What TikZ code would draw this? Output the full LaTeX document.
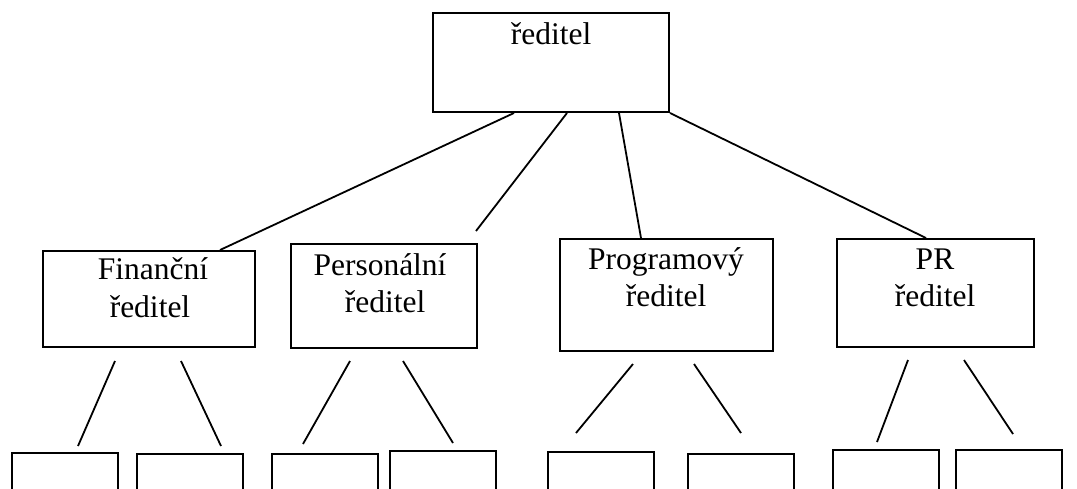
\documentclass[tikz,border=0pt]{standalone}
\usepackage{fontspec}
\setmainfont{Liberation Serif}
\begin{document}
\begin{tikzpicture}[x=1pt,y=-1pt,
  box/.style={draw,line width=2pt,rectangle,inner sep=0pt},
  leaf/.style={draw,line width=1.6pt,rectangle,inner sep=0pt,minimum width=106pt,minimum height=80pt,anchor=north west},
  lbl/.style={inner sep=0pt,anchor=base,font=\fontsize{31.5}{37}\selectfont},
  link/.style={line width=1.8pt}]
\useasboundingbox (0,0) rectangle (1077,488);
\clip (0,0) rectangle (1077,488);

% management boxes
\node[box,minimum width=236pt,minimum height=99pt] (boss) at (551,62.5) {};
\node[box,minimum width=212pt,minimum height=96pt] (fin) at (149,299) {};
\node[box,minimum width=186pt,minimum height=104pt] (pers) at (384,296) {};
\node[box,minimum width=213pt,minimum height=112pt] (prog) at (666.5,295) {};
\node[box,minimum width=197pt,minimum height=108pt] (pr) at (935.5,293) {};

% labels
\node[lbl] (bossA) at (551,44) {ředitel};
\node[lbl] (finA) at (153,279) {Finanční};
\node[lbl] (finB) at (150,317) {ředitel};
\node[lbl] (persA) at (380,275) {Personální};
\node[lbl] (persB) at (385,312) {ředitel};
\node[lbl] (progA) at (666,269) {Programový};
\node[lbl] (progB) at (666,306) {ředitel};
\node[lbl] (prA) at (935,269) {PR};
\node[lbl] (prB) at (935,306) {ředitel};

% lower-level boxes
\node[leaf] (f1) at (11,452) {};
\node[leaf] (f2) at (136,453) {};
\node[leaf] (p1) at (271,453) {};
\node[leaf] (p2) at (389,450) {};
\node[leaf] (g1) at (547,451) {};
\node[leaf] (g2) at (687,453) {};
\node[leaf] (r1) at (832,449) {};
\node[leaf] (r2) at (955,449) {};

% free ends of the connectors
\coordinate (persEnd) at (476,231);
\coordinate (fa1) at (115,361); \coordinate (fa2) at (78,446);
\coordinate (fb1) at (181,361); \coordinate (fb2) at (221,446);
\coordinate (pa1) at (350,361); \coordinate (pa2) at (303,444);
\coordinate (pb1) at (403,361); \coordinate (pb2) at (453,443);
\coordinate (ga1) at (633,364); \coordinate (ga2) at (576,433);
\coordinate (gb1) at (694,364); \coordinate (gb2) at (741,433);
\coordinate (ra1) at (908,360); \coordinate (ra2) at (877,442);
\coordinate (rb1) at (964,360); \coordinate (rb2) at (1013,434);

% connectors from the director
\draw[link] (514,0 |- boss.south) -- (220,0 |- fin.north);
\draw[link] (567,0 |- boss.south) -- (persEnd);
\draw[link] (619,0 |- boss.south) -- (641,0 |- prog.north);
\draw[link] (boss.south east) -- (926,0 |- pr.north);

% connectors towards the lower level
\draw[link] (fa1) -- (fa2);
\draw[link] (fb1) -- (fb2);
\draw[link] (pa1) -- (pa2);
\draw[link] (pb1) -- (pb2);
\draw[link] (ga1) -- (ga2);
\draw[link] (gb1) -- (gb2);
\draw[link] (ra1) -- (ra2);
\draw[link] (rb1) -- (rb2);
\end{tikzpicture}
\end{document}
